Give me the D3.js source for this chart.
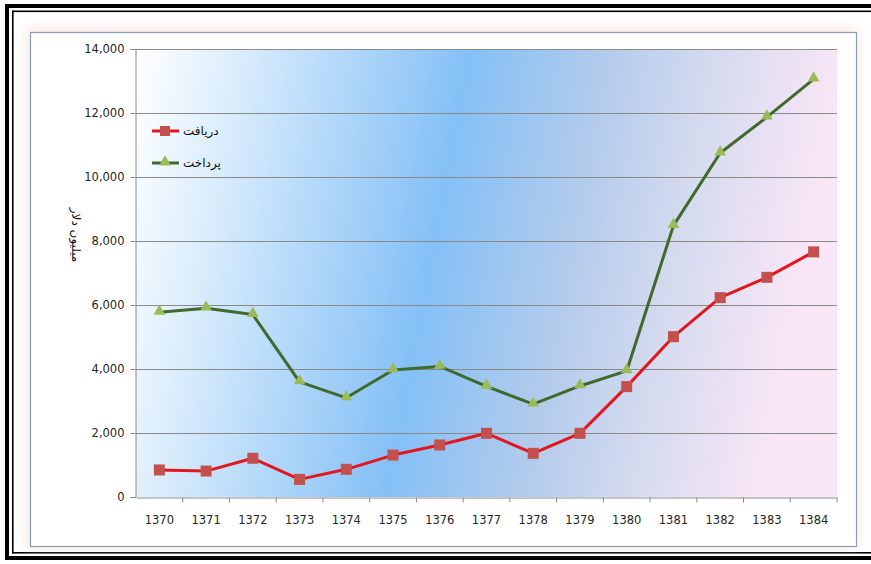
<!DOCTYPE html>
<html>
<head>
<meta http-equiv='Content-Type' content='text/html;charset=utf-8'/>
<title>دریافت و پرداخت</title>
<script src='https://d3js.org/d3.v7.min.js'></script>
<style>
body {
	margin: 0;
	background: #ffffff;
	font-family: 'DejaVu Sans', sans-serif;
}
</style>
</head>
<body>
<script>
'use strict'

// data (million dollars)
const years = ['1370', '1371', '1372', '1373', '1374', '1375', '1376', '1377',
	'1378', '1379', '1380', '1381', '1382', '1383', '1384']
const received = [845, 810, 1210, 550, 865, 1310, 1625, 1990, 1365, 1990, 3450, 5010, 6230, 6865, 7660]
const paid = [5770, 5900, 5700, 3600, 3100, 3970, 4080, 3460, 2900, 3470, 3940, 8480, 10750, 11870, 13060]
const yTicks = [0, 2000, 4000, 6000, 8000, 10000, 12000, 14000]
const seriesNames = ['دریافت', 'پرداخت']
const yTitle = 'میلیون دلار'

const W = 871, H = 564
const plot = {left: 136, right: 837, top: 49, bottom: 497}

const svg = d3.select('body').append('svg')
	.attr('width', W)
	.attr('height', H)

const defs = svg.append('defs')

// plot background gradient: white -> blue -> lavender/pink
const grad = defs.append('linearGradient')
	.attr('id', 'bg')
	.attr('x1', 0).attr('y1', 0)
	.attr('x2', 1).attr('y2', 0.12)
;[['0', '#ffffff'], ['0.15', '#d9ecfc'], ['0.47', '#84c0f6'], ['0.66', '#b2cbec'],
	['0.82', '#d6dbef'], ['1', '#f9e6f6']].forEach(function(s) {
	grad.append('stop').attr('offset', s[0]).attr('stop-color', s[1])
})

const blur = defs.append('filter').attr('id', 'glow')
	.attr('x', '-5%').attr('y', '-5%').attr('width', '110%').attr('height', '110%')
blur.append('feGaussianBlur').attr('stdDeviation', 6)

// outer double frame
const ink = '#000000'
svg.append('rect').attr('x', 5).attr('y', 4).attr('width', W).attr('height', 4).attr('fill', ink)
svg.append('rect').attr('x', 12).attr('y', 10.5).attr('width', W).attr('height', 1.6).attr('fill', ink)
svg.append('rect').attr('x', 5).attr('y', 4).attr('width', 4).attr('height', 556).attr('fill', ink)
svg.append('rect').attr('x', 12).attr('y', 10.5).attr('width', 1.6).attr('height', 543).attr('fill', ink)
svg.append('rect').attr('x', 12).attr('y', 552).attr('width', W).attr('height', 1.6).attr('fill', ink)
svg.append('rect').attr('x', 5).attr('y', 556).attr('width', W).attr('height', 4).attr('fill', ink)

// chart area with soft pink glow
svg.append('rect')
	.attr('x', 26).attr('y', 28).attr('width', 832).attr('height', 520)
	.attr('fill', '#f6d8d8').attr('opacity', 0.6)
	.attr('filter', 'url(#glow)')
svg.append('rect')
	.attr('x', 30.5).attr('y', 32.5).attr('width', 826).attr('height', 514)
	.attr('fill', '#ffffff')
	.attr('stroke', '#8a9bb4')
	.attr('stroke-width', 1.2)

const x = d3.scaleBand()
	.domain(years)
	.range([plot.left, plot.right])

const y = d3.scaleLinear()
	.domain([0, 14000])
	.range([plot.bottom, plot.top])

svg.append('rect')
	.attr('x', plot.left).attr('y', plot.top)
	.attr('width', plot.right - plot.left)
	.attr('height', plot.bottom - plot.top)
	.attr('fill', 'url(#bg)')

// grid lines
svg.append('g')
	.selectAll('line')
	.data(yTicks.filter(function(d) { return d > 0 }))
	.enter().append('line')
	.attr('x1', plot.left).attr('x2', plot.right)
	.attr('y1', function(d) { return y(d) + 0.5 })
	.attr('y2', function(d) { return y(d) + 0.5 })
	.attr('stroke', '#8a8a8a')
	.attr('stroke-width', 1)

// y axis
const yAxis = svg.append('g')
	.attr('transform', 'translate(' + (plot.left - 0.5) + ',0)')
	.call(d3.axisLeft(y).tickValues(yTicks).tickSize(5).tickPadding(6)
		.tickFormat(d3.format(',')))
yAxis.select('.domain').attr('stroke', '#8a8a8a')
yAxis.selectAll('.tick line').attr('stroke', '#8a8a8a')
yAxis.selectAll('text')
	.attr('fill', '#262626')
	.style('font-family', "'DejaVu Sans', sans-serif")
	.style('font-size', '11.5px')

// x axis, ticks on category boundaries
const xAxis = svg.append('g')
	.attr('transform', 'translate(0,' + (plot.bottom + 0.5) + ')')
	.call(d3.axisBottom(x).tickSize(0).tickPadding(18))
xAxis.select('.domain').attr('stroke', '#8a8a8a')
xAxis.selectAll('text')
	.attr('fill', '#262626')
	.style('font-family', "'DejaVu Sans', sans-serif")
	.style('font-size', '11.5px')
xAxis.selectAll('line.bound')
	.data(years.slice(1).concat(['end']))
	.enter().append('line')
	.attr('class', 'bound')
	.attr('x1', function(d, i) { return x(years[i]) + x.bandwidth() })
	.attr('x2', function(d, i) { return x(years[i]) + x.bandwidth() })
	.attr('y1', 0).attr('y2', 5)
	.attr('stroke', '#8a8a8a')

// y title, rotated
svg.append('text')
	.attr('transform', 'translate(72,235) rotate(90)')
	.attr('text-anchor', 'middle')
	.attr('direction', 'rtl')
	.style('font-family', "'DejaVu Sans', sans-serif")
	.style('font-size', '12px')
	.attr('fill', '#111111')
	.text(yTitle)

const line = d3.line()
	.x(function(d, i) { return x(years[i]) + x.bandwidth() / 2 })
	.y(function(d) { return y(d) })

const redLine = '#e3161e', redMark = '#c4504e'
const greenLine = '#3f6a2c', greenMark = '#9bbb59'
const tri = d3.symbol().type(d3.symbolTriangle).size(60)

svg.append('path')
	.attr('d', line(paid))
	.attr('fill', 'none')
	.attr('stroke', greenLine)
	.attr('stroke-width', 3)
	.attr('stroke-linejoin', 'round')

svg.append('g').selectAll('path')
	.data(paid)
	.enter().append('path')
	.attr('d', tri)
	.attr('transform', function(d, i) {
		return 'translate(' + (x(years[i]) + x.bandwidth() / 2) + ',' + (y(d) - 1) + ')'
	})
	.attr('fill', greenMark)

svg.append('path')
	.attr('d', line(received))
	.attr('fill', 'none')
	.attr('stroke', redLine)
	.attr('stroke-width', 3)
	.attr('stroke-linejoin', 'round')

svg.append('g').selectAll('rect')
	.data(received)
	.enter().append('rect')
	.attr('x', function(d, i) { return x(years[i]) + x.bandwidth() / 2 - 5.5 })
	.attr('y', function(d) { return y(d) - 5.5 })
	.attr('width', 11).attr('height', 11)
	.attr('fill', redMark)

// legend
const legend = [
	{name: seriesNames[0], line: redLine, mark: redMark, shape: 'square'},
	{name: seriesNames[1], line: greenLine, mark: greenMark, shape: 'triangle'}
]
const lg = svg.append('g').selectAll('g')
	.data(legend)
	.enter().append('g')
	.attr('transform', function(d, i) { return 'translate(152,' + (131 + i * 32) + ')' })

lg.append('line')
	.attr('x1', 0).attr('x2', 27)
	.attr('stroke', function(d) { return d.line })
	.attr('stroke-width', 3)

lg.each(function(d) {
	const g = d3.select(this)
	if (d.shape == 'square')
		g.append('rect').attr('x', 8).attr('y', -5).attr('width', 10).attr('height', 10).attr('fill', d.mark)
	else
		g.append('path').attr('d', tri).attr('transform', 'translate(13,-1)').attr('fill', d.mark)
})

lg.append('text')
	.attr('x', 31)
	.attr('y', 4)
	.attr('text-anchor', 'end')
	.attr('direction', 'rtl')
	.style('font-family', "'DejaVu Sans', sans-serif")
	.style('font-size', '12px')
	.attr('fill', '#111111')
	.text(function(d) { return d.name })
</script>
</body>
</html>
